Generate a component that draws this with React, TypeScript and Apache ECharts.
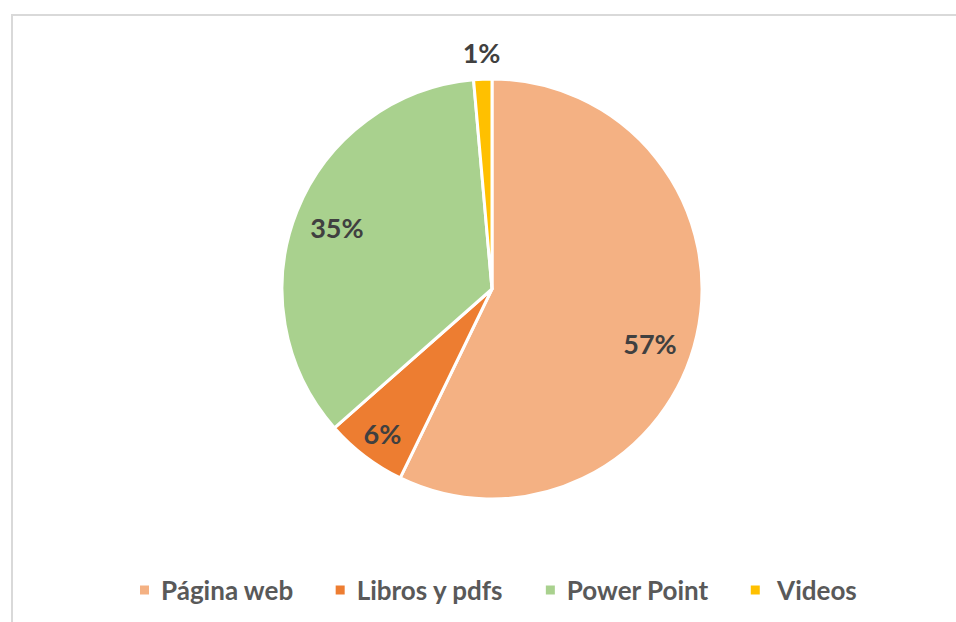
import React, { useEffect, useRef } from "react";
import * as echarts from "echarts";

const categories = ["Página web", "Libros y pdfs", "Power Point", "Videos"];
const values = [57.2, 6.3, 35.1, 1.4];
const colors = ["#F4B183", "#ED7D31", "#A9D18E", "#FFC000"];

const FONT = "Lato, 'Open Sans', sans-serif";

export default function App() {
  const ref = useRef<HTMLDivElement>(null);
  useEffect(() => {
    document.body.style.margin = "0";
    if (!ref.current) return;
    const chart = echarts.init(ref.current, undefined, { renderer: "svg" });
    const data = categories.map((name, i) => ({
      name,
      value: values[i],
      itemStyle: { color: colors[i] },
    }));
    const center = [492, 289];
    const labelSeries = (outer: number, show: string[], start = 90) => ({
      type: "pie",
      center,
      radius: [0, outer],
      startAngle: start,
      clockwise: true,
      silent: true,
      avoidLabelOverlap: false,
      legendHoverLink: false,
      emphasis: { disabled: true },
      itemStyle: { color: "rgba(0,0,0,0)", borderWidth: 0 },
      labelLine: { show: false },
      label: {
        show: true,
        position: "inside",
        color: "#404040",
        fontFamily: FONT,
        fontWeight: "bold",
        fontSize: 27,
        formatter: (p: any) =>
          show.includes(p.name) ? Math.round(p.percent) + "%" : "",
      },
      data: categories.map((name, i) => ({ name, value: values[i] })),
      z: 5,
    });
    chart.setOption({
      animation: false,
      backgroundColor: "#ffffff",
      graphic: [
        {
          type: "rect",
          shape: { x: 12, y: 15, width: 1000, height: 700 },
          style: { fill: "none", stroke: "#d9d9d9", lineWidth: 2 },
          silent: true,
        },
      ],
      legend: {
        data: categories,
        top: 572,
        left: 133,
        itemWidth: 11,
        itemHeight: 11,
        itemGap: 40,
        icon: "rect",
        formatter: (n: string) => (n === "Videos" ? " " + n : n),
        textStyle: {
          color: "#595959",
          fontFamily: FONT,
          fontWeight: "bold",
          fontSize: 26,
          padding: [0, 0, 0, 6],
        },
      },
      series: [
        {
          type: "pie",
          center,
          radius: [0, 210],
          startAngle: 90,
          clockwise: true,
          avoidLabelOverlap: false,
          emphasis: { disabled: true },
          itemStyle: { borderColor: "#ffffff", borderWidth: 3 },
          label: { show: false },
          labelLine: { show: false },
          data,
        },
        labelSeries(328, ["Página web"], 84),
        labelSeries(328, ["Power Point"]),
        labelSeries(356, ["Libros y pdfs"]),
        labelSeries(468, ["Videos"]),
      ],
    });
    return () => chart.dispose();
  }, []);
  return <div ref={ref} style={{ width: 956, height: 622 }} />;
}
